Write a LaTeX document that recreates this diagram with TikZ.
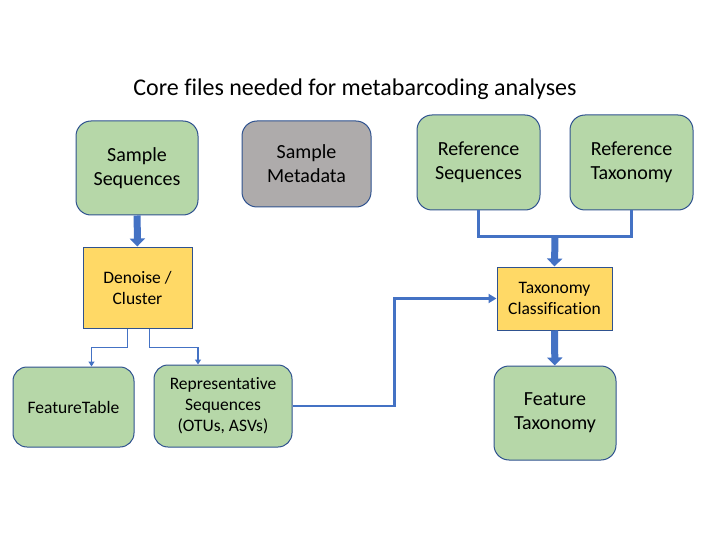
\documentclass[tikz,border=0pt]{standalone}
\usepackage{fontspec}
\setmainfont{Carlito}[Ligatures=NoCommon]
\usepackage{xcolor}
\usetikzlibrary{arrows.meta}
\usetikzlibrary{calc}

\definecolor{boxgreen}{HTML}{B6D7A8}
\definecolor{boxgray}{HTML}{AEABAB}
\definecolor{boxyellow}{HTML}{FFD966}
\definecolor{boxline}{HTML}{2F528F}
\definecolor{flow}{HTML}{4472C4}

\begin{document}
\begin{tikzpicture}[x=1pt,y=-1pt]
	%\draw[help lines] (0,0) grid (720,540);
	\useasboundingbox (0,0) rectangle (720,540);
	
	\tikzstyle{fnode} = [draw=boxline,fill=boxgreen,rounded corners=15pt,line width=1pt,align=center,font=\fontsize{20}{24}\selectfont]
	\tikzstyle{snode} = [draw=boxline,fill=boxgreen,rounded corners=14pt,line width=1pt,align=center,font=\fontsize{17.5}{21}\selectfont]
	\tikzstyle{pnode} = [draw=boxline,fill=boxyellow,line width=1pt,align=center,font=\fontsize{17.5}{21}\selectfont]
	\tikzstyle{bigedge} = [draw=flow,line width=7pt,-{Triangle[width=15pt,length=8pt]}]
	\tikzstyle{midedge} = [draw=flow,line width=2.5pt,-{Triangle[width=9pt,length=8pt]}]
	\tikzstyle{smalledge} = [draw=flow,line width=1.6pt,-{Triangle[width=6pt,length=5pt]}]
	
	

\node[font=\fontsize{24}{28}\selectfont] (title) at (355,89) {Core files needed for metabarcoding analyses};

\node[fnode,minimum width=122pt,minimum height=94pt] (seq) at (137,168) {Sample\\Sequences};
\node[fnode,fill=boxgray,minimum width=129pt,minimum height=86pt] (meta) at (306.5,164) {Sample\\Metadata};
\node[fnode,minimum width=123pt,minimum height=95pt] (rseq) at (478.5,162.5) {Reference\\Sequences};
\node[fnode,minimum width=123pt,minimum height=95pt] (rtax) at (631.5,162.5) {Reference\\Taxonomy};

\node[pnode,minimum width=109pt,minimum height=81pt] (dc) at (137.5,287.5) {Denoise /\\Cluster};
\node[pnode,minimum width=115pt,minimum height=63pt] (cls) at (554.5,298.5) {Taxonomy\\Classification};

\node[snode,minimum width=121pt,minimum height=80pt] (ft) at (73.5,407) {FeatureTable};
\node[snode,minimum width=138pt,minimum height=82pt] (rep) at (223,406) {Representative\\Sequences\\(OTUs, ASVs)};
\node[fnode,minimum width=122pt,minimum height=94pt] (ftax) at (555,413) {Feature\\Taxonomy};

\draw [bigedge] (seq) -- (dc);
\draw [smalledge] ([xshift=-10pt]dc.south) -- ++(0,19) -| ([xshift=18pt]ft.north);
\draw [smalledge] ([xshift=12pt]dc.south) -- ++(0,19) -| ([xshift=-25pt]rep.north);
\draw [midedge] (rep.east) -- ++(102,0) |- (cls.west);

\coordinate (mj) at ($(rseq.south)!0.5!(rtax.south)+(0,26)$);
\draw [draw=flow,line width=3pt] (rseq.south) -- ++(0,26) -| (rtax.south);
\draw [bigedge] (mj) -- (cls.north);
\draw [bigedge] (cls) -- (ftax);
\end{tikzpicture}
\end{document}
